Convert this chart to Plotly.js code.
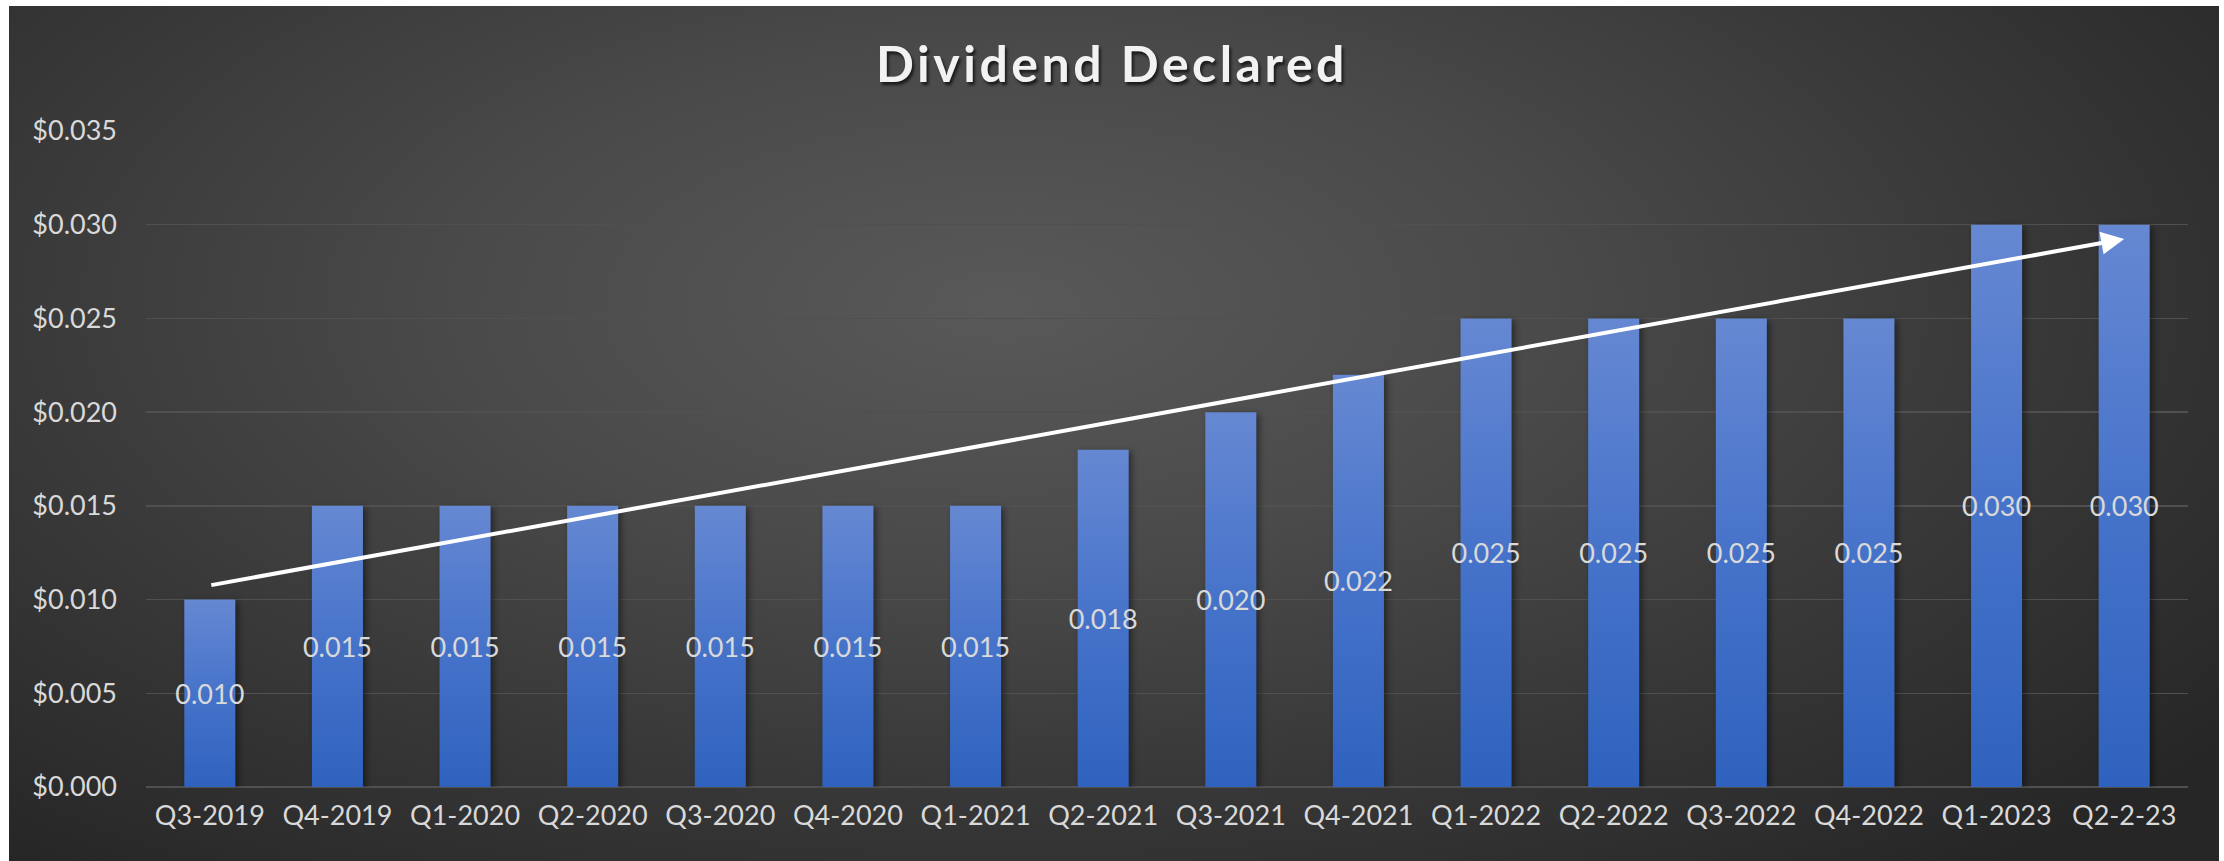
<!DOCTYPE html>
<html>
<head>
<meta charset="utf-8">
<script src="https://cdn.plot.ly/plotly-3.0.1.min.js"></script>
<style>
  html, body { margin: 0; padding: 0; background: #ffffff; }
  #wrap { position: relative; width: 2224px; height: 861px; overflow: hidden; }
  #bg { position: absolute; left: 9px; top: 6px; width: 2210px; height: 855px;
        background: radial-gradient(ellipse 70% 85% at 45% 35%, #595959 0%, #4a4a4a 35%, #363636 70%, #262626 100%); }
  #chart { position: absolute; left: 0; top: 0; width: 2224px; height: 861px; }
  .bars .point path { filter: drop-shadow(3px 2px 3px rgba(0,0,0,0.45)); }
  .gtitle { letter-spacing: 3.5px; }
</style>
</head>
<body>
<div id="wrap"><div id="bg"></div><div id="chart"></div></div>
<script>
const categories = ['Q3-2019','Q4-2019','Q1-2020','Q2-2020','Q3-2020','Q4-2020','Q1-2021','Q2-2021',
                    'Q3-2021','Q4-2021','Q1-2022','Q2-2022','Q3-2022','Q4-2022','Q1-2023','Q2-2-23'];
const dividends = [0.010,0.015,0.015,0.015,0.015,0.015,0.015,0.018,
                   0.020,0.022,0.025,0.025,0.025,0.025,0.030,0.030];
const yTickVals = [0,0.005,0.010,0.015,0.020,0.025,0.030,0.035];
const chartTitle = 'Dividend Declared';

// linear trendline (least squares) over category index
const n = dividends.length;
const mx = (n - 1) / 2;
const my = dividends.reduce((a, b) => a + b, 0) / n;
let sxy = 0, sxx = 0;
dividends.forEach((v, i) => { sxy += (i - mx) * (v - my); sxx += (i - mx) * (i - mx); });
const slope = sxy / sxx;
const trendStart = my - mx * slope;
const trendEnd = my + (n - 1 - mx) * slope;

const FONT = 'Lato, "Open Sans", sans-serif';
const TXT = '#d9d9d9';

const trace = {
  type: 'bar',
  x: categories,
  y: dividends,
  marker: { color: '#4472c4', line: { width: 0 } },
  texttemplate: '%{y:.3f}',
  textposition: 'inside',
  insidetextanchor: 'middle',
  textangle: 0,
  constraintext: 'none',
  insidetextfont: { family: FONT, size: 27, color: TXT },
  hoverinfo: 'skip'
};

const layout = {
  width: 2224, height: 861,
  paper_bgcolor: 'rgba(0,0,0,0)',
  plot_bgcolor: 'rgba(0,0,0,0)',
  margin: { l: 146, r: 36, t: 131, b: 74 },
  bargap: 0.6,
  showlegend: false,
  title: {
    text: chartTitle,
    x: 0.5, xref: 'container', xanchor: 'center',
    y: 1 - 64 / 861, yref: 'container', yanchor: 'middle',
    font: { family: FONT, size: 50, color: '#f2f2f2', weight: 700, shadow: '2px 3px 3px rgba(0,0,0,0.65)' }
  },
  xaxis: {
    type: 'category',
    showgrid: false, zeroline: false, showline: false,
    ticks: '', ticklabelstandoff: 10,
    tickfont: { family: FONT, size: 27, color: TXT }
  },
  yaxis: {
    range: [0, 0.035],
    tickvals: yTickVals,
    tickformat: '$.3f',
    showgrid: true, gridcolor: '#505050', gridwidth: 1.5,
    zeroline: true, zerolinecolor: '#505050', zerolinewidth: 1.5,
    showline: false, ticks: '', ticklabelstandoff: 28,
    tickfont: { family: FONT, size: 27, color: TXT }
  },
  annotations: [{
    x: categories.length - 1, y: trendEnd, xref: 'x', yref: 'y',
    ax: 0, ay: trendStart, axref: 'x', ayref: 'y',
    text: '', showarrow: true,
    arrowhead: 2, arrowsize: 1.15, arrowwidth: 4, arrowcolor: '#ffffff',
    standoff: 0, startstandoff: 0
  }]
};

Plotly.newPlot('chart', [trace], layout, { displayModeBar: false, staticPlot: true }).then(gd => {
  const svg = gd.querySelector('.main-svg');
  const NS = 'http://www.w3.org/2000/svg';
  let defs = svg.querySelector('defs');
  if (!defs) { defs = document.createElementNS(NS, 'defs'); svg.insertBefore(defs, svg.firstChild); }
  const lg = document.createElementNS(NS, 'linearGradient');
  lg.setAttribute('id', 'barGrad');
  lg.setAttribute('x1', '0'); lg.setAttribute('y1', '0');
  lg.setAttribute('x2', '0'); lg.setAttribute('y2', '1');
  [['0%', 'rgb(102,136,210)'], ['50%', 'rgb(70,115,202)'], ['100%', 'rgb(47,98,190)']].forEach(([o, c]) => {
    const s = document.createElementNS(NS, 'stop');
    s.setAttribute('offset', o); s.setAttribute('stop-color', c);
    lg.appendChild(s);
  });
  defs.appendChild(lg);
  gd.querySelectorAll('.bars .point path').forEach(p => { p.style.fill = 'url(#barGrad)'; });
});
</script>
</body>
</html>
